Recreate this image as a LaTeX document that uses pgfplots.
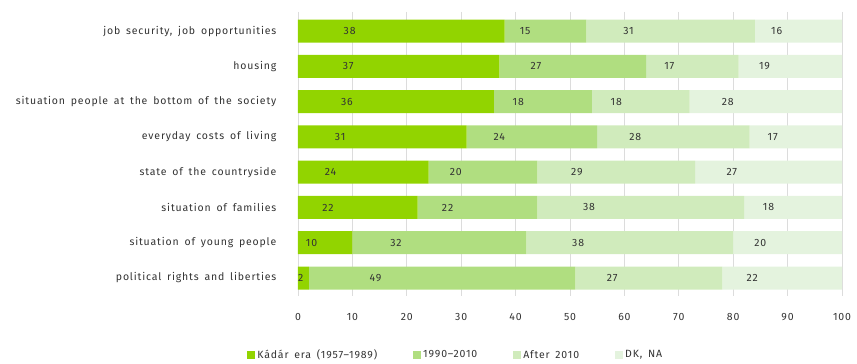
\documentclass[border=0pt]{standalone}
\usepackage{pgfplots}
\pgfplotsset{compat=1.18}
\usepackage{fontspec}
\setmainfont{Fira Sans}[LetterSpace=8, WordSpace=1.6]

\definecolor{kadar}{RGB}{146,212,0}
\definecolor{mid}{RGB}{176,222,128}
\definecolor{after}{RGB}{208,235,188}
\definecolor{dkna}{RGB}{228,243,222}
\definecolor{txt}{RGB}{51,51,51}
\definecolor{gridc}{RGB}{220,220,220}

% centre the value label inside its segment
\tikzset{halfshift/.code={%
    \pgfmathfloattofixed{\pgfplotspointmeta}\let\mymeta\pgfmathresult
    \pgfkeysalso{/tikz/xshift={-\mymeta*1.36pt}}}}

\begin{document}
\begin{tikzpicture}
\fontsize{10.5}{12}\selectfont
\begin{axis}[
    name=ax,
    scale only axis,
    width=544pt, height=284pt,
    xbar stacked,
    bar width=23pt,
    xmin=0, xmax=100,
    ymin=-0.54, ymax=7.51,
    y dir=reverse,
    xtick={0,10,...,100},
    ytick={0,...,7},
    yticklabels={job security{,} job opportunities, housing,
        situation people at the bottom of the society, everyday costs of living,
        state of the countryside, situation of families,
        situation of young people, political rights and liberties},
    major tick length=0pt,
    xmajorgrids, major grid style={gridc, line width=0.8pt},
    axis line style={draw=none},
    tick label style={font=\fontsize{10.5}{12}\selectfont, text=txt},
    /pgf/number format/assume math mode=true,
    yticklabel style={xshift=-18pt},
    xticklabel style={yshift=-14pt},
    nodes near coords,
    every node near coord/.append style={anchor=center, text=txt,
        font=\fontsize{10.5}{12}\selectfont, halfshift},
    legend columns=4,
    legend style={draw=none, at={(axis description cs:-0.099,-0.208)}, anchor=west,
        font=\fontsize{10.5}{12}\selectfont, text=txt,
        /tikz/every even column/.append style={column sep=34pt}},
    legend image code/.code={\fill[#1] (0pt,-4pt) rectangle (8pt,4pt);},
]
\addplot[fill=kadar, draw=none] coordinates {(38,0) (37,1) (36,2) (31,3) (24,4) (22,5) (10,6) (2,7)};
\addplot[fill=mid, draw=none] coordinates {(15,0) (27,1) (18,2) (24,3) (20,4) (22,5) (32,6) (49,7)};
\addplot[fill=after, draw=none] coordinates {(31,0) (17,1) (18,2) (28,3) (29,4) (38,5) (38,6) (27,7)};
\addplot[fill=dkna, draw=none] coordinates {(16,0) (19,1) (28,2) (17,3) (27,4) (18,5) (20,6) (22,7)};
\legend{K\'ad\'ar era (1957--1989), 1990--2010, After 2010, {DK, NA}}
\end{axis}
\pgfresetboundingbox
\path[use as bounding box] (-298pt,-68pt) rectangle (559pt,296pt);
\end{tikzpicture}
\end{document}
